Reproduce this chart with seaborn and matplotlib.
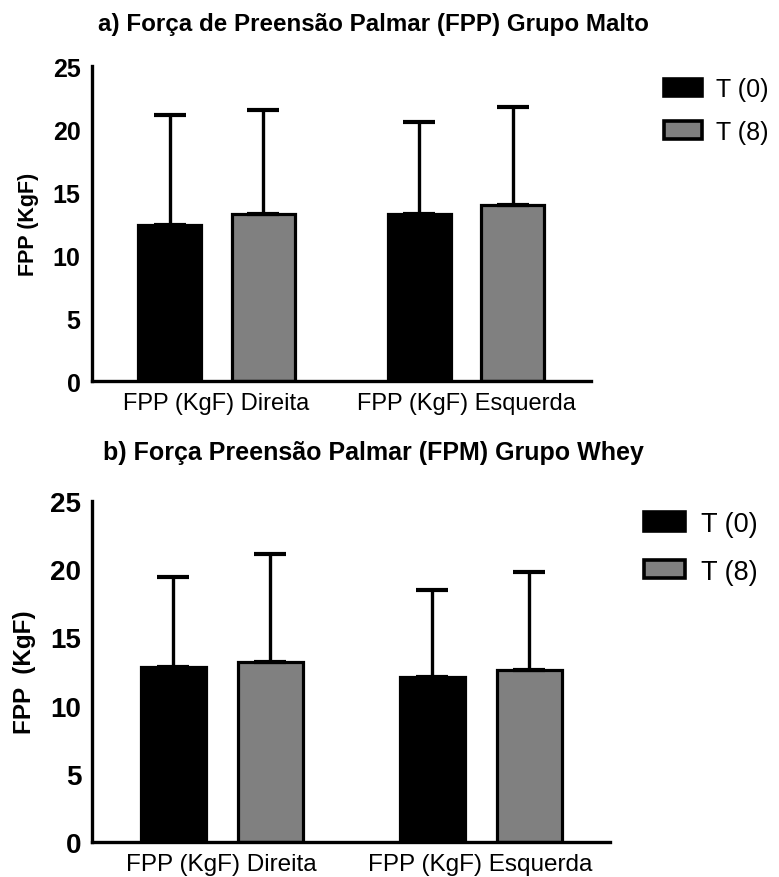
import matplotlib
matplotlib.use('Agg')
import matplotlib.pyplot as plt
import matplotlib.patches as mpatches
import pandas as pd
import seaborn as sns


# --------------------------------------------------
# Data (means and SD, upper bars only)
sides = ['FPP (KgF) Direita', 'FPP (KgF) Esquerda']
times = ['T (0)', 'T (8)']
colors = ['#000000', '#808080']

malto_t0 = [12.4, 13.3]
malto_t8 = [13.3, 14.0]
malto_sd_t0 = [8.7, 7.3]
malto_sd_t8 = [8.2, 7.8]

whey_t0 = [12.8, 12.1]
whey_t8 = [13.2, 12.6]
whey_sd_t0 = [6.6, 6.4]
whey_sd_t8 = [7.9, 7.2]

titles = ['a) Força de Preensão Palmar (FPP) Grupo Malto',
          'b) Força Preensão Palmar (FPM) Grupo Whey']
ylabels = ['FPP (KgF)', 'FPP  (KgF)']
yticks = [0, 5, 10, 15, 20, 25]
# --------------------------------------------------

fam = ['Liberation Sans', 'DejaVu Sans']


def make_df(t0: list, t8: list) -> pd.DataFrame:
    '''Long table for seaborn.'''
    rows = []
    for s, a, b in zip(sides, t0, t8):
        rows.append({'side': s, 'time': times[0], 'value': a})
        rows.append({'side': s, 'time': times[1], 'value': b})
    return pd.DataFrame(rows)


def draw_panel(ax, df: pd.DataFrame, sds: list, title_y: float, title: str, ylabel: str,
               sizes: dict, leg_xy: tuple, leg_space: float):
    '''Bars, upper SD whiskers, axis formatting.'''
    sns.barplot(data=df, x='side', y='value', hue='time', hue_order=times, order=sides,
                palette=colors, width=0.75, gap=0.33, errorbar=None,
                edgecolor='black', linewidth=2.3, saturation=1, ax=ax, legend=False)
    for cont, sd in zip(ax.containers, sds):
        xs = [b.get_x() + b.get_width() / 2 for b in cont]
        hs = [b.get_height() for b in cont]
        ax.errorbar(xs, hs, yerr=[[0] * len(sd), sd], fmt='none', ecolor='black',
                    elinewidth=2.4, capsize=11.5, capthick=3.0, zorder=1)

    ax.set_ylim(0, 25)
    ax.set_xlim(-0.5, 1.5)
    ax.set_yticks(yticks)
    ax.set_yticklabels([str(t) for t in yticks], family=fam,
                       fontweight='bold', fontsize=sizes['ytick'])
    ax.set_xticklabels(sides, family=fam, fontsize=sizes['xtick'])
    ax.set_xlabel('')
    ax.set_ylabel(ylabel, family=fam, fontweight='bold',
                  fontsize=sizes['ylabel'], labelpad=10)
    sns.despine(ax=ax)
    for sp in ['left', 'bottom']:
        ax.spines[sp].set_linewidth(2.4)
        ax.spines[sp].set_color('black')
    ax.tick_params(axis='both', length=6, width=2.2, pad=2, colors='black')

    fig = ax.figure
    fig.text(0.479, title_y, title, ha='center', va='center', fontsize=sizes['title'],
             fontweight='bold', family=fam, color='black')

    handles = [mpatches.Patch(facecolor=c, edgecolor='black', linewidth=2.6, label=t)
               for c, t in zip(colors, times)]
    ax.legend(handles=handles, loc='upper left', bbox_to_anchor=leg_xy,
              bbox_transform=fig.transFigure, frameon=False,
              prop={'family': fam, 'size': sizes['legend']},
              handlelength=1.5, handleheight=0.68, handletextpad=0.6, labelspacing=leg_space,
              borderpad=0, borderaxespad=0)


sns.set_style('white')
plt.rcParams['font.family'] = fam
plt.rcParams['text.color'] = 'black'
plt.rcParams['axes.labelcolor'] = 'black'

fig = plt.figure(figsize=(7.79, 8.78), dpi=100)
ax1 = fig.add_axes([0.1177, 0.5646, 0.6406, 0.3588])
ax2 = fig.add_axes([0.1185, 0.0395, 0.6646, 0.389])

draw_panel(ax1, make_df(malto_t0, malto_t8), [malto_sd_t0, malto_sd_t8], 0.972,
           titles[0], ylabels[0],
           {'ytick': 18, 'xtick': 17, 'ylabel': 15.5, 'title': 17.4, 'legend': 18},
           (664 / 779, 1 - 78 / 878), 0.75)
draw_panel(ax2, make_df(whey_t0, whey_t8), [whey_sd_t0, whey_sd_t8], 0.484,
           titles[1], ylabels[1],
           {'ytick': 20, 'xtick': 17.5, 'ylabel': 17.5, 'title': 18, 'legend': 19.5},
           (644 / 779, 1 - 512 / 878), 0.8)

fig.savefig('out.png', dpi=100)
plt.close()
